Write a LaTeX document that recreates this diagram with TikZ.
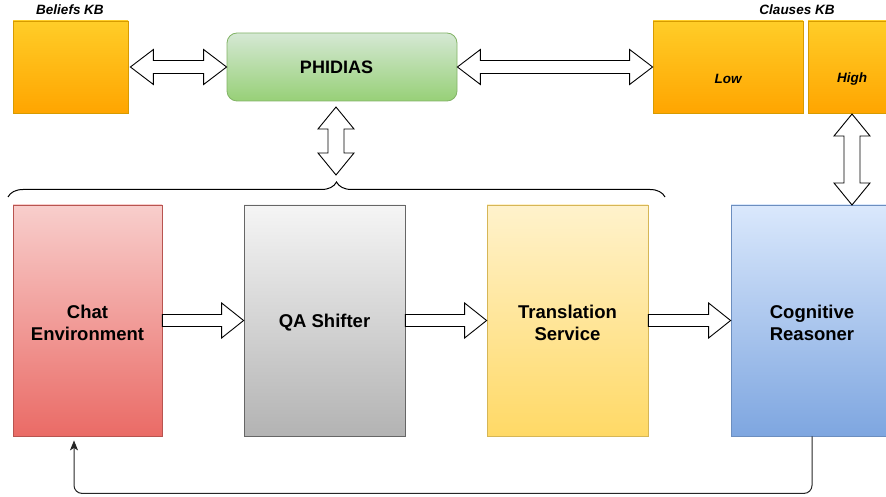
\documentclass[tikz,border=0pt]{standalone}
\usepackage{fontspec}
\setmainfont{Liberation Sans}
\usetikzlibrary{calc,arrows.meta,decorations.pathreplacing}

\definecolor{kbtop}{HTML}{FFCD28}
\definecolor{kbbot}{HTML}{FFA500}
\definecolor{kbline}{HTML}{D79B00}
\definecolor{phtop}{HTML}{D5E8D4}
\definecolor{phbot}{HTML}{97D077}
\definecolor{phline}{HTML}{82B366}
\definecolor{chtop}{HTML}{F8CECC}
\definecolor{chbot}{HTML}{EA6B66}
\definecolor{chline}{HTML}{B85450}
\definecolor{qatop}{HTML}{F5F5F5}
\definecolor{qabot}{HTML}{B3B3B3}
\definecolor{qaline}{HTML}{666666}
\definecolor{trtop}{HTML}{FFF2CC}
\definecolor{trbot}{HTML}{FFD966}
\definecolor{trline}{HTML}{D6B656}
\definecolor{cgtop}{HTML}{DAE8FC}
\definecolor{cgbot}{HTML}{7EA6E0}
\definecolor{cgline}{HTML}{6C8EBF}

\tikzset{
  box/.style={rectangle, line width=0.8pt, inner sep=0pt, align=center,
    font=\bfseries\fontsize{18.5}{22}\selectfont, text=black},
  kbbox/.style={box, top color=kbtop, bottom color=kbbot, draw=kbline},
  phbox/.style={box, rounded corners=10pt, top color=phtop, bottom color=phbot, draw=phline},
  chbox/.style={box, top color=chtop, bottom color=chbot, draw=chline},
  qabox/.style={box, top color=qatop, bottom color=qabot, draw=qaline},
  trbox/.style={box, top color=trtop, bottom color=trbot, draw=trline},
  cgbox/.style={box, top color=cgtop, bottom color=cgbot, draw=cgline},
  boxtext/.style={label={[align=center, inner sep=0pt, yshift=-2pt,
    font=\bfseries\fontsize{18.5}{22}\selectfont]center:#1}},
  tag/.style={font=\bfseries\itshape\fontsize{13.5}{16}\selectfont, inner sep=0pt},
  blockarrow/.style={draw=black, fill=white, line width=0.9pt, line join=miter},
  feedback/.style={draw=black!85, line width=1pt, rounded corners=8pt,
    -{Stealth[length=10pt,width=8pt,inset=2.5pt]}},
  bracket/.style={draw=black, line width=1pt,
    decorate, decoration={brace, amplitude=15pt, aspect=0.5}},
}

% horizontal double-headed block arrow between two tips
\newcommand\harrowtwo[2]{%
  \draw[blockarrow] (#1) -- ($(#1)+(23,17.5)$) -- ($(#1)+(23,6.5)$)
    -- ($(#2)+(-23,6.5)$) -- ($(#2)+(-23,17.5)$) -- (#2)
    -- ($(#2)+(-23,-17.5)$) -- ($(#2)+(-23,-6.5)$)
    -- ($(#1)+(23,-6.5)$) -- ($(#1)+(23,-17.5)$) -- cycle;}
% vertical double-headed block arrow, top tip then bottom tip
\newcommand\varrowtwo[2]{%
  \draw[blockarrow] (#1) -- ($(#1)+(18,-22)$) -- ($(#1)+(8,-22)$)
    -- ($(#2)+(8,22)$) -- ($(#2)+(18,22)$) -- (#2)
    -- ($(#2)+(-18,22)$) -- ($(#2)+(-8,22)$)
    -- ($(#1)+(-8,-22)$) -- ($(#1)+(-18,-22)$) -- cycle;}
% horizontal single block arrow, tail then tip
\newcommand\harrowone[2]{%
  \draw[blockarrow] ($(#1)+(0,6)$) -- ($(#2)+(-22,6)$) -- ($(#2)+(-22,17.5)$)
    -- (#2) -- ($(#2)+(-22,-17.5)$) -- ($(#2)+(-22,-6)$)
    -- ($(#1)+(0,-6)$) -- cycle;}

\begin{document}
\begin{tikzpicture}[x=1pt,y=1pt]
  \useasboundingbox (0,0) rectangle (886,-497);
  \clip (0,0) rectangle (886,-497);

  % knowledge bases and the PHIDIAS engine
  \node[kbbox, minimum width=115pt, minimum height=92pt] (beliefs) at (70.5,-67) {};
  \node[tag] (beliefslbl) at (70,-10) {Beliefs KB};
  \node[phbox, minimum width=230pt, minimum height=68pt,
    label={[inner sep=0pt, xshift=-5.5pt, font=\bfseries\fontsize{18}{22}\selectfont]center:PHIDIAS}]
    (phidias) at (342,-67) {};
  \node[kbbox, minimum width=150pt, minimum height=92pt] (low) at (728,-67) {};
  \node[tag] (lowlbl) at (728,-79) {Low};
  \node[kbbox, minimum width=88pt, minimum height=92pt] (high) at (852,-67) {};
  \node[tag] (highlbl) at (852,-79) {High};
  \node[tag] (clauseslbl) at (797,-10) {Clauses KB};

  % processing pipeline
  \node[chbox, minimum width=149pt, minimum height=231pt, boxtext={Chat\\Environment}] (chat) at (87.5,-320.5) {};
  \node[qabox, minimum width=161pt, minimum height=231pt, boxtext={QA Shifter}] (qa) at (324.5,-320.5) {};
  \node[trbox, minimum width=161pt, minimum height=231pt, boxtext={Translation\\Service}] (trans) at (567.5,-320.5) {};
  \node[cgbox, minimum width=162pt, minimum height=231pt, boxtext={Cognitive\\Reasoner}] (cog) at (812,-320.5) {};

  % brace grouping the first three stages
  \coordinate (brl) at (8,-197);
  \coordinate (brr) at (665,-197);
  \draw[bracket] (brl) -- (brr);

  % links to the knowledge bases
  \coordinate (bkr) at ($(beliefs.east)+(2,0)$);
  \harrowtwo{bkr}{phidias.west}
  \harrowtwo{phidias.east}{low.west}
  \coordinate (phd) at (336,-107);
  \coordinate (brt) at (336,-175);
  \varrowtwo{phd}{brt}
  \coordinate (hid) at (852,-114);
  \coordinate (cgu) at (852,-205);
  \varrowtwo{hid}{cgu}

  % pipeline flow
  \harrowone{chat.east}{qa.west}
  \harrowone{qa.east}{trans.west}
  \harrowone{trans.east}{cog.west}

  % feedback from the reasoner to the chat
  \coordinate (chin) at ($(chat.south)+(-13.5,-4)$);
  \draw[feedback] (cog.south) |- ($(chin)+(0,-53)$) -- (chin);
\end{tikzpicture}
\end{document}
